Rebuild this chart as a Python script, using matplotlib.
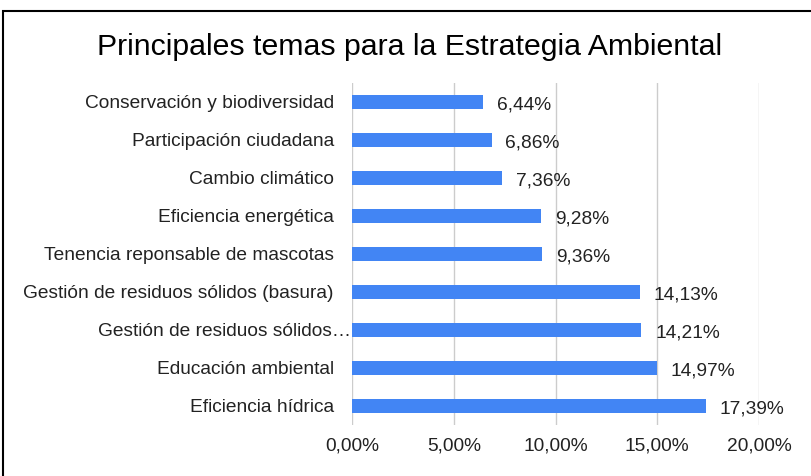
import matplotlib
matplotlib.use("Agg")
import matplotlib.pyplot as plt
import matplotlib.transforms as mtransforms
from matplotlib.patches import Rectangle

# Data (top to bottom as shown)
temas = [
    "Conservación y biodiversidad",
    "Participación ciudadana",
    "Cambio climático",
    "Eficiencia energética",
    "Tenencia reponsable de mascotas",
    "Gestión de residuos sólidos (basura)",
    "Gestión de residuos sólidos…",
    "Educación ambiental",
    "Eficiencia hídrica",
]
porcentajes = [6.44, 6.86, 7.36, 9.28, 9.36, 14.13, 14.21, 14.97, 17.39]
ticks = [0, 5, 10, 15, 20]

plt.rcParams["font.family"] = ["Liberation Sans", "DejaVu Sans"]

fig = plt.figure(figsize=(8.12, 4.76), dpi=100)
ax = fig.add_axes([352 / 812, 1 - 425 / 476, (759 - 352) / 812, (425 - 83) / 476])

ypos = list(range(len(temas)))
ax.barh(ypos, porcentajes, height=0.36, color="#4285F4", zorder=3)
for y, v in zip(ypos, porcentajes):
    ax.annotate(f"{v:.2f}%".replace(".", ","), (v, y), xytext=(10, -2),
                textcoords="offset points", va="center", ha="left",
                fontsize=13.8, color="#222222")

ax.set_ylim(len(temas) - 0.5, -0.5)
ax.set_xlim(0, 20)
ax.set_yticks(ypos)
ax.set_yticklabels(temas, fontsize=13.8, color="#222222")
ax.set_xticks(ticks)
ax.set_xticklabels([f"{t:.2f}%".replace(".", ",") for t in ticks],
                   fontsize=13.8, color="#222222")
ax.tick_params(axis="y", length=0, pad=13)
ax.tick_params(axis="x", length=0, pad=9)
ax.grid(axis="x", color="#cccccc", linewidth=1, zorder=0)
for s in ax.spines.values():
    s.set_visible(False)

# truncated label sits right against the axis
lbl = ax.get_yticklabels()[6]
lbl.set_transform(lbl.get_transform() + mtransforms.ScaledTranslation(17 / 100, 0, fig.dpi_scale_trans))

fig.text(410 / 812, 1 - 47 / 476, "Principales temas para la Estrategia Ambiental",
         ha="center", va="center", fontsize=21.8, color="#000000")

# outer frame
fig.patches.append(Rectangle((3 / 812, -0.1), 1.2, 0.1 + (476 - 11) / 476,
                             transform=fig.transFigure, fill=False,
                             edgecolor="black", linewidth=1.5))

fig.savefig("out.png", dpi=100)
